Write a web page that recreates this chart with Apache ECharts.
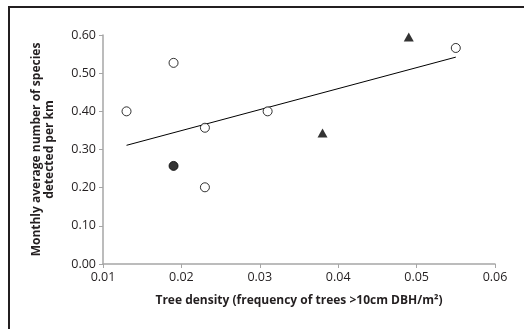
<!DOCTYPE html>
<html>
<head>
<meta charset="utf-8">
<script src="https://cdn.jsdelivr.net/npm/echarts@6/dist/echarts.min.js"></script>
<style>
html,body{margin:0;padding:0;background:#fff;}
#c{width:524px;height:329px;}
</style>
</head>
<body>
<div id="c"></div>
<script>
// Data
const openCircles = [[0.013, 0.400], [0.019, 0.527], [0.023, 0.357], [0.023, 0.201], [0.031, 0.400], [0.055, 0.566]];
const filledCircles = [[0.019, 0.257]];
const triangles = [[0.038, 0.343], [0.049, 0.595]];
const trendLine = [[0.013, 0.311], [0.055, 0.542]];
const xTicks = [0.01, 0.02, 0.03, 0.04, 0.05, 0.06];
const yTicks = [0.00, 0.10, 0.20, 0.30, 0.40, 0.50, 0.60];
const xTitle = 'Tree density (frequency of trees >10cm DBH/m²)';
const yTitle = 'Monthly average number of species\ndetected per km';

const FONT = 'Open Sans';
const axisGray = '#a6a6a6';
const chart = echarts.init(document.getElementById('c'), null, {renderer: 'canvas'});
chart.setOption({
  animation: false,
  backgroundColor: '#fff',
  grid: {left: 103, right: 29, top: 35, bottom: 65, containLabel: false},
  graphic: [
    {type: 'line', shape: {x1: 9, y1: 6, x2: 9, y2: 329}, style: {stroke: '#231f20', lineWidth: 2}},
    {type: 'line', shape: {x1: 8, y1: 7, x2: 524, y2: 7}, style: {stroke: '#231f20', lineWidth: 2}}
  ],
  xAxis: {
    type: 'value', min: xTicks[0], max: xTicks[xTicks.length - 1], interval: 0.01,
    name: xTitle, nameLocation: 'middle', nameGap: 31,
    nameTextStyle: {fontFamily: FONT, fontWeight: 'bold', fontSize: 12, color: '#231f20'},
    axisLine: {lineStyle: {color: axisGray, width: 1.5}},
    axisTick: {show: true, length: 4, lineStyle: {color: axisGray}},
    axisLabel: {fontFamily: FONT, fontSize: 12.5, color: '#231f20', margin: 7,
      formatter: v => v.toFixed(2)},
    splitLine: {show: false}
  },
  yAxis: {
    type: 'value', min: yTicks[0], max: yTicks[yTicks.length - 1], interval: 0.1,
    name: yTitle, nameLocation: 'middle', nameGap: 47,
    nameTextStyle: {fontFamily: FONT, fontWeight: 'bold', fontSize: 12, color: '#231f20', lineHeight: 13},
    axisLine: {show: true, lineStyle: {color: axisGray, width: 1.5}},
    axisTick: {show: true, length: 4, lineStyle: {color: axisGray}},
    axisLabel: {fontFamily: FONT, fontSize: 12.5, color: '#231f20', margin: 7,
      formatter: v => v.toFixed(2)},
    splitLine: {show: false}
  },
  series: [
    {type: 'line', data: trendLine, symbol: 'none', lineStyle: {color: '#000', width: 1}, z: 1},
    {type: 'scatter', data: openCircles, symbol: 'circle', symbolSize: 9,
      itemStyle: {color: '#fff', borderColor: '#000', borderWidth: 1}, z: 3},
    {type: 'scatter', data: filledCircles, symbol: 'circle', symbolSize: 9,
      itemStyle: {color: '#000', borderColor: '#000', borderWidth: 1}, z: 3},
    {type: 'scatter', data: triangles, symbol: 'triangle', symbolSize: [10, 9],
      itemStyle: {color: '#000'}, z: 3}
  ]
});
</script>
</body>
</html>
